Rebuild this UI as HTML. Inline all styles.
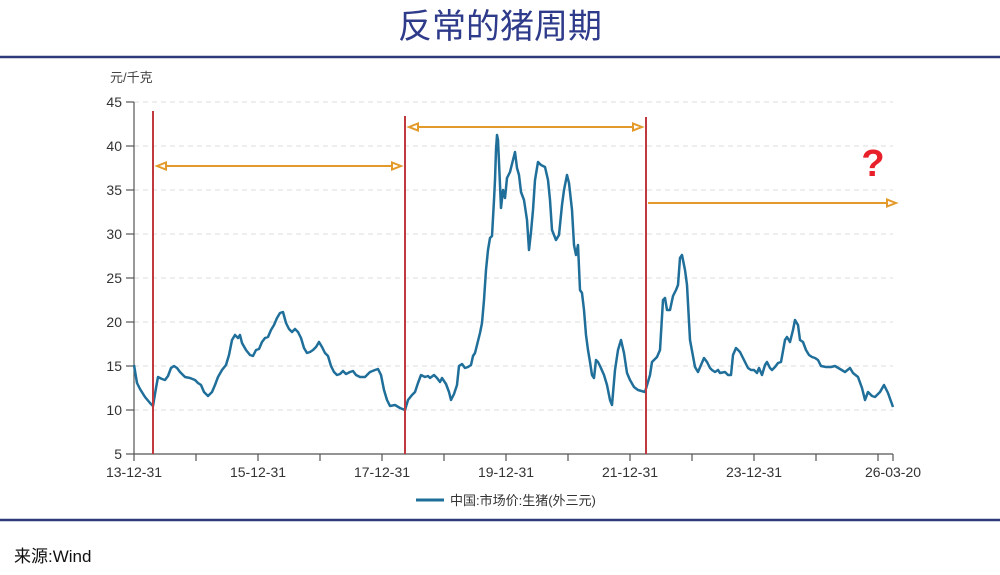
<!DOCTYPE html>
<html><head><meta charset="utf-8"><style>
body{margin:0;width:1000px;height:570px;background:#fff;overflow:hidden;font-family:"Liberation Sans","Noto Sans CJK SC",sans-serif;}
</style></head><body>
<svg width="1000" height="570" viewBox="0 0 1000 570" xmlns="http://www.w3.org/2000/svg" font-family="Liberation Sans, Noto Sans CJK SC, sans-serif">
<text x="500" y="38" text-anchor="middle" font-size="34" fill="#2e3a8a" font-family="Noto Sans CJK SC, sans-serif">反常的猪周期</text>
<line x1="0" y1="57" x2="1000" y2="57" stroke="#2e3a7a" stroke-width="2.5"/>
<line x1="0" y1="520" x2="1000" y2="520" stroke="#2e3a7a" stroke-width="2.5"/>
<text x="110" y="82" font-size="13" fill="#444">元/千克</text>
<g stroke="#ddd" stroke-dasharray="5,4" stroke-width="1">
<line x1="134" y1="102" x2="893" y2="102"/><line x1="134" y1="146" x2="893" y2="146"/>
<line x1="134" y1="190" x2="893" y2="190"/><line x1="134" y1="234" x2="893" y2="234"/>
<line x1="134" y1="278" x2="893" y2="278"/><line x1="134" y1="322" x2="893" y2="322"/>
<line x1="134" y1="366" x2="893" y2="366"/><line x1="134" y1="410" x2="893" y2="410"/>
</g>
<g stroke="#555" stroke-width="1.2">
<line x1="134" y1="102" x2="134" y2="454"/><line x1="134" y1="454" x2="893" y2="454"/>
<line x1="126" y1="102" x2="134" y2="102"/><line x1="126" y1="146" x2="134" y2="146"/><line x1="126" y1="190" x2="134" y2="190"/><line x1="126" y1="234" x2="134" y2="234"/><line x1="126" y1="278" x2="134" y2="278"/><line x1="126" y1="322" x2="134" y2="322"/><line x1="126" y1="366" x2="134" y2="366"/><line x1="126" y1="410" x2="134" y2="410"/><line x1="126" y1="454" x2="134" y2="454"/>
<line x1="134" y1="454" x2="134" y2="461"/><line x1="196" y1="454" x2="196" y2="461"/><line x1="258" y1="454" x2="258" y2="461"/><line x1="320" y1="454" x2="320" y2="461"/><line x1="382" y1="454" x2="382" y2="461"/><line x1="444" y1="454" x2="444" y2="461"/><line x1="506" y1="454" x2="506" y2="461"/><line x1="568" y1="454" x2="568" y2="461"/><line x1="630" y1="454" x2="630" y2="461"/><line x1="692" y1="454" x2="692" y2="461"/><line x1="754" y1="454" x2="754" y2="461"/><line x1="816" y1="454" x2="816" y2="461"/><line x1="878" y1="454" x2="878" y2="461"/><line x1="893" y1="454" x2="893" y2="461"/>
</g>
<g font-size="14" fill="#333" text-anchor="end">
<text x="122" y="107">45</text><text x="122" y="151">40</text><text x="122" y="195">35</text><text x="122" y="239">30</text><text x="122" y="283">25</text><text x="122" y="327">20</text><text x="122" y="371">15</text><text x="122" y="415">10</text><text x="122" y="459">5</text>
</g>
<g font-size="14" fill="#333" text-anchor="middle">
<text x="134" y="477">13-12-31</text><text x="258" y="477">15-12-31</text><text x="382" y="477">17-12-31</text><text x="506" y="477">19-12-31</text><text x="630" y="477">21-12-31</text><text x="754" y="477">23-12-31</text><text x="893" y="477">26-03-20</text>
</g>
<polyline fill="none" stroke="#1f6f9a" stroke-width="2.5" stroke-linejoin="round" points="134,365 137,383 140,389 145,397 150,403 153,406 156,388 158,377 162,379 165,380 168,376 171,368 174,366 177,368 180,372 185,377 190,378 195,380 198,383 201,385 204,392 208,396 212,392 215,385 218,377 222,370 226,365 229,355 232,340 235,335 238,338 240,335 242,343 246,350 250,355 253,356 256,350 259,349 262,342 265,338 268,337 271,330 274,325 277,318 280,313 283,312 286,323 289,329 292,332 295,329 298,332 301,338 304,348 307,353 310,352 313,350 316,347 319,342 322,347 325,353 328,356 331,366 334,372 337,375 340,374 343,371 346,374 350,372 353,371 356,375 360,377 365,377 370,372 375,370 378,369 381,375 384,390 387,400 390,406 395,405 400,408 405,410 408,400 412,395 415,392 418,383 421,375 425,377 428,376 430,378 434,375 437,378 440,382 442,378 446,384 449,392 451,400 454,394 457,385 459,366 462,364 465,368 468,367 471,365 473,356 475,353 477,345 480,333 482,323 484,300 486,270 488,250 490,238 492,236 494,200 495,180 496,150 497,135 498,140 500,185 501,208 503,190 505,198 507,178 510,172 513,160 515,152 517,168 519,175 521,192 524,200 527,220 529,250 531,232 533,210 535,180 538,162 541,165 545,167 548,180 550,200 552,230 556,240 559,235 562,205 564,190 567,175 569,183 572,210 574,245 576,255 578,245 580,290 582,293 584,310 586,335 588,350 590,362 592,375 594,378 596,360 598,362 600,366 604,375 607,385 610,400 612,405 615,370 618,350 621,340 624,353 627,373 630,380 634,387 638,390 645,392 650,375 652,362 657,357 660,350 663,300 665,298 667,310 670,310 673,296 676,290 678,285 680,258 682,255 685,270 687,285 690,340 695,367 698,372 704,358 707,362 710,368 712,370 715,372 718,370 720,373 725,372 728,375 731,375 733,355 736,348 740,352 745,362 748,368 751,370 754,370 757,373 759,368 762,375 765,365 767,362 770,368 772,370 775,367 778,363 781,362 785,340 787,337 790,342 793,330 795,320 798,325 800,340 803,342 806,350 809,355 812,357 815,358 818,360 821,366 826,367 831,367 835,366 840,369 845,372 850,368 853,373 858,377 862,388 865,400 868,392 872,396 875,397 880,392 884,385 888,393 893,407"/>
<g stroke="#c0393f" stroke-width="2">
<line x1="153" y1="111" x2="153" y2="454"/><line x1="405" y1="116" x2="405" y2="454"/><line x1="646" y1="117" x2="646" y2="454"/>
</g>
<g stroke="#e39a2a" stroke-width="2" fill="#fff">
<line x1="157" y1="166" x2="401" y2="166"/>
<polygon points="157,166 166,162.5 166,169.5"/><polygon points="401,166 392,162.5 392,169.5"/>
<line x1="409" y1="127" x2="642" y2="127"/>
<polygon points="409,127 418,123.5 418,130.5"/><polygon points="642,127 633,123.5 633,130.5"/>
<line x1="648" y1="203" x2="896" y2="203"/>
<polygon points="896,203 887,199.5 887,206.5"/>
</g>
<text x="873" y="176" font-size="38" font-weight="bold" fill="#e8202a" text-anchor="middle">?</text>
<line x1="416" y1="500" x2="444" y2="500" stroke="#1f6f9a" stroke-width="3"/>
<text x="450" y="505" font-size="13" fill="#333">中国:市场价:生猪(外三元)</text>
<text x="14" y="562" font-size="17" fill="#111">来源:Wind</text>
</svg>
</body></html>
